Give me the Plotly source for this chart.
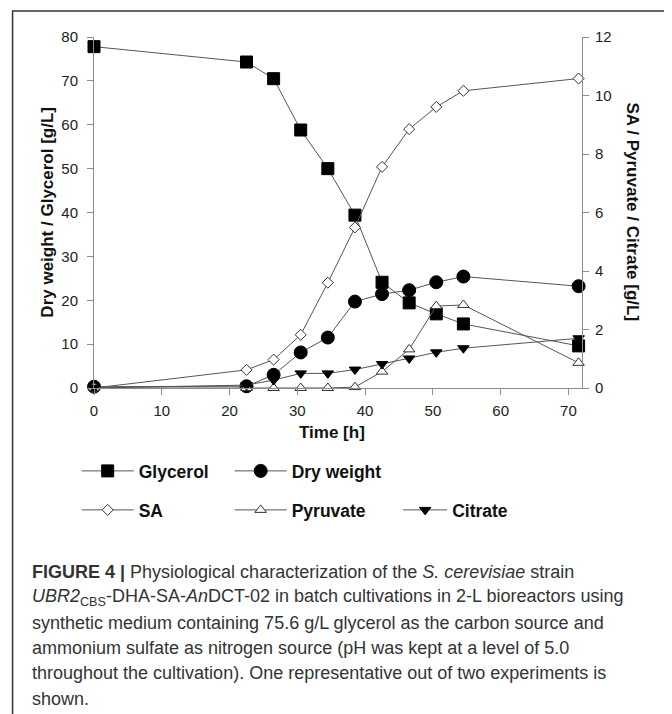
import plotly.graph_objects as go

# ---- data ----
time_h = [0, 22.5, 26.5, 30.5, 34.5, 38.5, 42.5, 46.5, 50.5, 54.5, 71.5]
glycerol = [77.8, 74.3, 70.5, 58.8, 50.0, 39.4, 24.1, 19.4, 16.9, 14.6, 9.6]
dry_weight = [0.3, 0.4, 3.0, 8.1, 11.5, 19.7, 21.4, 22.3, 24.1, 25.4, 23.2]
sa = [0, 0.62, 0.97, 1.82, 3.6, 5.49, 7.56, 8.85, 9.61, 10.16, 10.58]
pyruvate = [0, 0, 0, 0, 0, 0.03, 0.56, 1.32, 2.8, 2.84, 0.86]
citrate = [0, 0.1, 0.27, 0.5, 0.5, 0.63, 0.82, 1.01, 1.22, 1.36, 1.70]

x_ticks = [0, 10, 20, 30, 40, 50, 60, 70]
y_left_ticks = [0, 10, 20, 30, 40, 50, 60, 70, 80]
y_right_ticks = [0, 2, 4, 6, 8, 10, 12]

caption_lines = [
    "<b>FIGURE 4 |</b> Physiological characterization of the <i>S. cerevisiae</i> strain",
    "<i>UBR2</i><sub>CBS</sub>-DHA-SA-<i>An</i>DCT-02 in batch cultivations in 2-L bioreactors using",
    "synthetic medium containing 75.6 g/L glycerol as the carbon source and",
    "ammonium sulfate as nitrogen source (pH was kept at a level of 5.0",
    "throughout the cultivation). One representative out of two experiments is",
    "shown.",
]

W, H = 672, 714
OFF = 8  # page body margin
ML, MR, MT, MB = 86.3, 98.4, 29, 334
PW, PH = W - ML - MR, H - MT - MB


def px(sx):
    return (sx - OFF - ML) / PW


def py(sy):
    return (MT + PH - (sy - OFF)) / PH


LINE = dict(color="#555555", width=1)
FONT = "Liberation Sans, Arial, sans-serif"

fig = go.Figure()

series = [
    ("Glycerol", glycerol, "y", dict(symbol="square", size=12, color="black", line=dict(color="black", width=1)), "legend"),
    ("Dry weight", dry_weight, "y", dict(symbol="circle", size=13, color="black", line=dict(color="black", width=1)), "legend"),
    ("SA", sa, "y2", dict(symbol="diamond", size=8.5, color="white", line=dict(color="#333333", width=1)), "legend2"),
    ("Pyruvate", pyruvate, "y2", dict(symbol="triangle-up", size=10, color="white", line=dict(color="#333333", width=1)), "legend2"),
    ("Citrate", citrate, "y2", dict(symbol="triangle-down", size=10, color="black", line=dict(color="black", width=1)), "legend3"),
]
for name, vals, yax, marker, leg in series:
    fig.add_trace(go.Scatter(
        x=time_h, y=vals, name=name, yaxis=yax, mode="lines+markers",
        line=LINE, marker=marker, cliponaxis=False, legend=leg,
    ))

axis_common = dict(
    showline=True, linecolor="#8c8c8c", linewidth=1, ticks="outside",
    tickcolor="#8c8c8c", ticklen=6, showgrid=False, zeroline=False,
    tickfont=dict(family=FONT, size=15, color="#222222"),
)

LEG_FONT = dict(family=FONT, size=17.5, color="#111111", weight="bold")
fig.update_layout(
    width=W, height=H,
    margin=dict(l=ML, r=MR, t=MT, b=MB),
    paper_bgcolor="white", plot_bgcolor="white",
    xaxis=dict(range=[0, 72], tickvals=x_ticks, ticklabelstandoff=3, **axis_common),
    yaxis=dict(range=[0, 80], tickvals=y_left_ticks, ticklabelstandoff=6, **axis_common),
    yaxis2=dict(range=[0, 12], tickvals=y_right_ticks, overlaying="y", side="right",
                ticklabelstandoff=3, **axis_common),
    legend=dict(orientation="h", x=px(77), y=py(471), xanchor="left", yanchor="middle",
                font=LEG_FONT, entrywidth=86, itemwidth=52, bgcolor="rgba(0,0,0,0)"),
    legend2=dict(orientation="h", x=px(77), y=py(510), xanchor="left", yanchor="middle",
                 font=LEG_FONT, entrywidth=86, itemwidth=52, bgcolor="rgba(0,0,0,0)"),
    legend3=dict(orientation="h", x=px(398), y=py(510), xanchor="left", yanchor="middle",
                 font=LEG_FONT, itemwidth=44, bgcolor="rgba(0,0,0,0)"),
    showlegend=True,
)

TITLE_FONT = dict(family=FONT, size=17, color="#111111")
annotations = [
    dict(text="<b>Time [h]</b>", x=px(332), y=py(432), xref="paper", yref="paper",
         showarrow=False, font=TITLE_FONT, xanchor="center", yanchor="middle"),
    dict(text="<b>Dry weight / Glycerol [g/L]</b>", x=px(47), y=py(212), xref="paper", yref="paper",
         showarrow=False, textangle=-90, font=TITLE_FONT, xanchor="center", yanchor="middle"),
    dict(text="<b>SA / Pyruvate / Citrate [g/L]</b>", x=px(633), y=py(212), xref="paper", yref="paper",
         showarrow=False, textangle=90, font=TITLE_FONT, xanchor="center", yanchor="middle"),
]
for i, line in enumerate(caption_lines):
    annotations.append(dict(
        text=line, x=px(30), y=py(572 + 25.3 * i), xref="paper", yref="paper",
        showarrow=False, xanchor="left", yanchor="middle", align="left",
        font=dict(family=FONT, size=18, color="#333333"),
    ))
fig.update_layout(annotations=annotations)

# frame around figure + caption
fig.add_shape(type="path", xref="paper", yref="paper",
              path=f"M {px(13)} {py(760)} L {px(13)} {py(11)} L {px(670)} {py(11)} L {px(670)} {py(760)}",
              line=dict(color="#333333", width=1.5))

fig.write_html("out.html")
